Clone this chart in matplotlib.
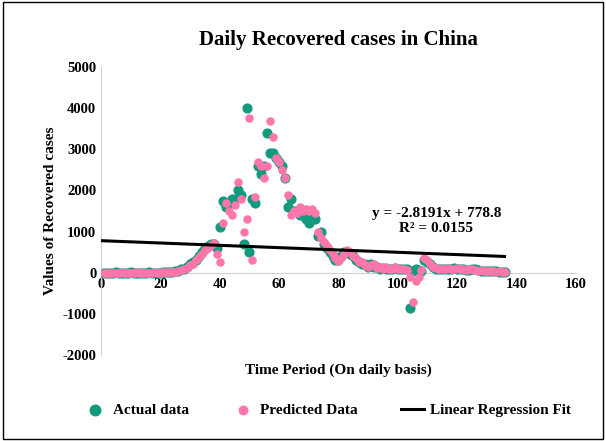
import numpy as np
import matplotlib.pyplot as plt

plt.rcParams['font.family'] = ['Liberation Serif', 'DejaVu Serif']
plt.rcParams['axes.unicode_minus'] = False

actual = [5, 3, 4, 2, 6, 5, 4, 3, 5, 6, 4, 3, 2, 5, 4, 6, 5, 3, 4, 5, 8, 10, 12, 15,
          30, 50, 80, 100, 150, 200,
          250, 300, 400, 500, 600,
          650, 700, 700, 600, 1100,
          1750, 1600, 1700, 1800, 1800,
          2000, 1900, 700, 4000, 500,
          1800, 1700, 2600, 2400, 2600,
          3400, 2900, 2900, 2800, 2700,
          2600, 2300, 1600, 1800, 1500,
          1500, 1400, 1400, 1300, 1200,
          1300, 1300, 900, 1000, 700,
          600, 500, 400, 300, 300,
          400, 500, 500, 450, 400, 300, 250, 200, 200, 150,
          200, 150, 150, 100, 120, 100, 80, 100, 120, 100,
          80, 90, 100, -850, 50, 100, 60, 50, 300, 250,
          200, 150, 100, 100, 80, 100, 90, 80, 120, 100,
          100, 80, 70, 60, 90, 100, 60, 50, 50, 40, 40, 30, 30, 20, 20, 10]
predicted = [2, 4, 3, 5, 4, 3, 6, 4, 3, 5, 4, 6, 3, 4, 5, 3, 4, 6, 5, 4, 6, 8, 10, 12,
             20, 40, 60, 80, 120, 180,
             220, 300, 380, 450, 550,
             600, 680, 720, 450, 250,
             1200, 1700, 1500, 1400, 1650,
             2200, 1800, 1000, 1300, 3750,
             300, 1850, 2700, 2600, 2300,
             2600, 3700, 3300, 2800, 2700,
             2500, 2300, 1900, 1400, 1500,
             1450, 1600, 1500, 1550, 1500,
             1550, 1450, 1000, 850, 750,
             650, 550, 450, 350, 280,
             350, 450, 550, 500, 400, 350, 250, 250, 180, 150,
             180, 200, 120, 150, 100, 130, 90, 80, 140, 100,
             90, 80, 60, -100, -700, -200, -100, 60, 350, 300,
             220, 130, 120, 80, 100, 80, 110, 100, 90, 120,
             90, 100, 60, 80, 100, 70, 50, 60, 40, 50, 30, 40, 20, 30, 10, 15]
days = np.arange(1, len(actual) + 1)

slope, intercept = -2.8191, 778.8

fig, ax = plt.subplots(figsize=(6.06, 4.41), dpi=100)
fig.patch.set_facecolor("white")
for s in ['top', 'right']:
    ax.spines[s].set_visible(False)
ax.spines['left'].set_color('#d0d0d0')
ax.spines['bottom'].set_position(('data', 0))
ax.spines['bottom'].set_color('#d0d0d0')

ax.scatter(days, actual, s=40, color='#129a7e', zorder=3, label='Actual data')
ax.scatter(days, predicted, s=26, color='#ff77aa', zorder=4, label='Predicted Data')
xl = np.array([0, 136])
ax.plot(xl, slope * xl + intercept, color='black', lw=2.2, zorder=5, label='Linear Regression Fit')

ax.set_xlim(0, 160)
ax.set_ylim(-2000, 5000)
ax.set_xticks(range(0, 161, 20))
ax.set_yticks(range(-2000, 5001, 1000))
ax.tick_params(length=0, labelsize=10.5)
for lbl in ax.get_xticklabels() + ax.get_yticklabels():
    lbl.set_fontweight('bold')

ax.text(113, 1250, "y = -2.8191x + 778.8\nR² = 0.0155", ha='center', va='center',
        fontsize=11, fontweight='bold', linespacing=1.2)

ax.set_title("Daily Recovered cases in China", fontsize=15, fontweight='bold', pad=16)
ax.set_xlabel("Time Period (On daily basis)", fontsize=11, fontweight='bold')
ax.xaxis.set_label_coords(0.5, -0.03)
ax.set_ylabel("Values of Recovered cases", fontsize=11, fontweight='bold')

ax.legend(loc='center', bbox_to_anchor=(0.54, 0.07), bbox_transform=fig.transFigure,
          ncol=3, frameon=False, prop={'weight': 'bold', 'size': 11},
          handlelength=1.5, handletextpad=0.4, columnspacing=2.8, markerscale=1.2)

fig.subplots_adjust(left=0.167, right=0.95, top=0.848, bottom=0.195)
fig.add_artist(plt.Rectangle((0.005, 0.005), 0.99, 0.99, transform=fig.transFigure,
                             fill=False, ec='black', lw=1))
fig.savefig("out.png", dpi=100)
